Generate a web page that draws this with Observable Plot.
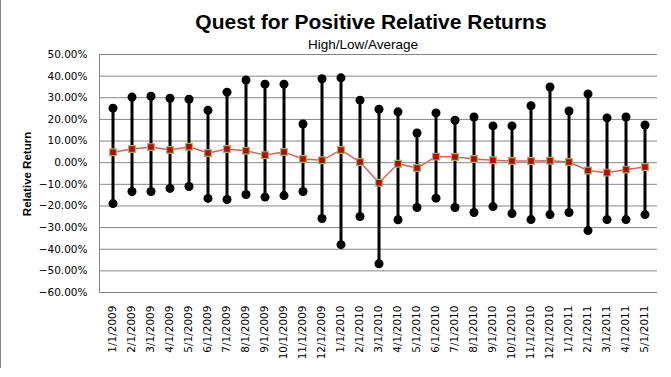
<!DOCTYPE html>
<html>
<head>
<meta charset="utf-8">
<script src="https://cdn.jsdelivr.net/npm/d3@7"></script>
<script src="https://cdn.jsdelivr.net/npm/@observablehq/plot@0.6"></script>
<style>
  html, body { margin: 0; padding: 0; background: #fff; }
  #wrap { position: relative; width: 671px; height: 377px; overflow: hidden; }
  #border { position: absolute; left: 0; top: 0; width: 1px; height: 368px; background: #868686; }
  #title { position: absolute; left: 0; top: 10px; width: 742px; text-align: center;
    font: bold 21px "Liberation Sans", Arial, sans-serif; color: #000; white-space: nowrap; }
  #subtitle { position: absolute; left: 0; top: 37px; width: 726px; text-align: center;
    font: 13.5px "Liberation Sans", Arial, sans-serif; color: #000; white-space: nowrap; }
  #ytitle { position: absolute; left: 27px; top: 174px; transform: translate(-50%, -50%) rotate(-90deg);
    font: bold 11.5px "Liberation Sans", Arial, sans-serif; color: #000; white-space: nowrap; }
  #chart { position: absolute; left: 0; top: 0; }
</style>
</head>
<body>
<div id="wrap">
  <div id="chart"></div>
  <div id="border"></div>
  <div id="title">Quest for Positive Relative Returns</div>
  <div id="subtitle">High/Low/Average</div>
  <div id="ytitle">Relative Return</div>
</div>
<script>
const categories = ["1/1/2009","2/1/2009","3/1/2009","4/1/2009","5/1/2009","6/1/2009","7/1/2009","8/1/2009","9/1/2009","10/1/2009","11/1/2009","12/1/2009",
  "1/1/2010","2/1/2010","3/1/2010","4/1/2010","5/1/2010","6/1/2010","7/1/2010","8/1/2010","9/1/2010","10/1/2010","11/1/2010","12/1/2010",
  "1/1/2011","2/1/2011","3/1/2011","4/1/2011","5/1/2011"];
const high = [25.2, 30.3, 30.7, 29.8, 29.3, 24.2, 32.6, 38.2, 36.3, 36.3, 17.9, 38.8,
  39.2, 28.9, 24.7, 23.5, 13.7, 23.0, 19.6, 21.1, 17.0, 17.0, 26.3, 35.0,
  23.9, 31.8, 20.7, 21.1, 17.4];
const low = [-18.9, -13.3, -13.3, -11.9, -11.0, -16.5, -17.0, -14.7, -15.9, -15.2, -13.3, -25.8,
  -37.9, -24.9, -46.7, -26.4, -20.7, -16.4, -20.7, -23.0, -20.3, -23.5, -26.3, -24.0,
  -23.0, -31.4, -26.3, -26.3, -24.0];
const average = [4.8, 6.3, 7.2, 5.9, 7.4, 4.5, 6.3, 5.5, 3.5, 4.9, 1.7, 1.1,
  5.9, 0.3, -9.3, -0.5, -2.5, 2.8, 2.6, 1.7, 1.1, 0.8, 0.8, 0.9,
  0.3, -3.6, -4.6, -3.2, -2.0];
const yTicks = [0.5, 0.4, 0.3, 0.2, 0.1, 0, -0.1, -0.2, -0.3, -0.4, -0.5, -0.6];

const data = categories.map((c, i) => ({ date: c, high: high[i] / 100, low: low[i] / 100, avg: average[i] / 100 }));

const chart = Plot.plot({
  width: 671,
  height: 377,
  marginLeft: 99,
  marginRight: 14,
  marginTop: 54,
  marginBottom: 85,
  style: { background: "transparent", color: "#000", fontFamily: "'DejaVu Sans', sans-serif", fontSize: "10.5px" },
  x: { type: "band", domain: categories, padding: 0, label: null },
  y: { domain: [-0.6, 0.5], ticks: yTicks, label: null },
  marks: [
    Plot.gridY(yTicks, { stroke: "#868686", strokeOpacity: 1, strokeWidth: 1 }),
    Plot.axisY(yTicks, { tickSize: 0, tickPadding: 12, tickFormat: d3.format(".2%"), fontSize: 10.5, fontFamily: "'DejaVu Sans', sans-serif", label: null }),
    Plot.axisX({ tickSize: 0, tickPadding: 13, tickRotate: -90, fontSize: 10.5, fontFamily: "'DejaVu Sans', sans-serif", label: null }),
    Plot.frame({ anchor: "left", stroke: "#868686", strokeWidth: 1 }),
    Plot.ruleX(data, { x: "date", y1: "low", y2: "high", stroke: "#000", strokeWidth: 3 }),
    Plot.dot(data, { x: "date", y: "high", r: 4.5, fill: "#000", stroke: "none" }),
    Plot.dot(data, { x: "date", y: "low", r: 4.5, fill: "#000", stroke: "none" }),
    Plot.line(data, { x: "date", y: "avg", stroke: "#E06060", strokeWidth: 1.5 }),
    Plot.dot(data, { x: "date", y: "avg", symbol: "square", r: 3.8, fill: "#C00000", stroke: "#9BBB59", strokeWidth: 1.2 })
  ]
});
document.getElementById("chart").appendChild(chart);
</script>
</body>
</html>
